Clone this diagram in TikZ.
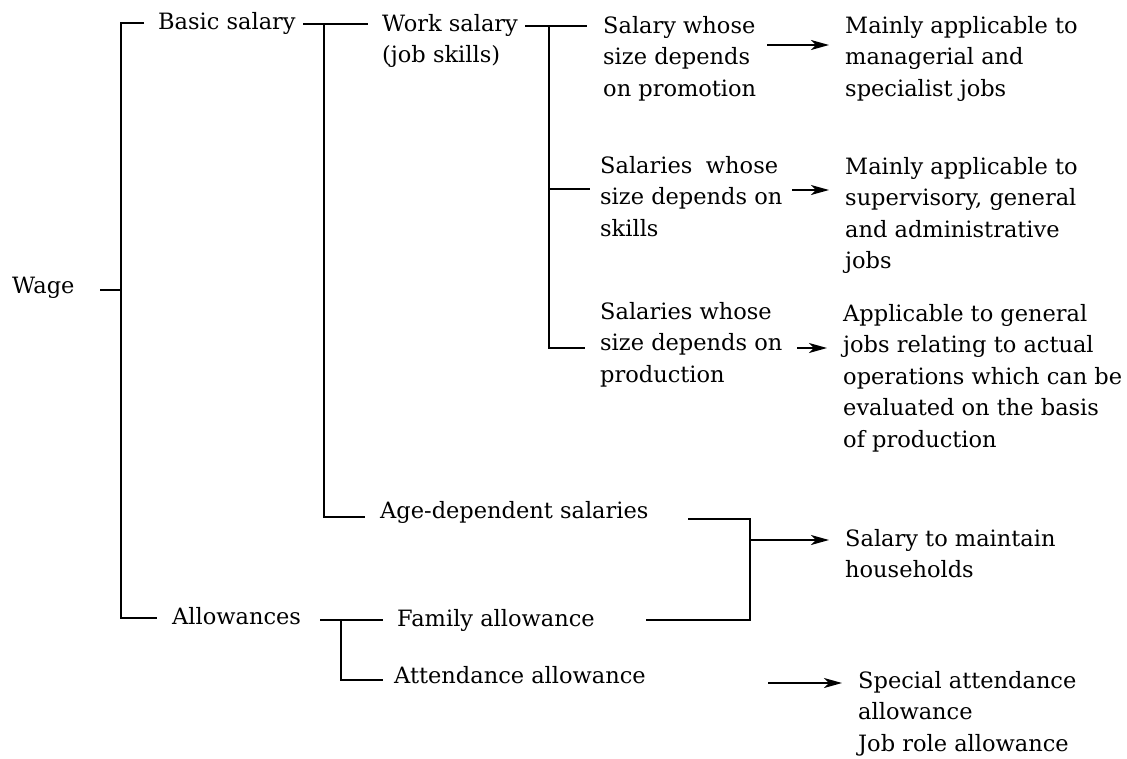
\documentclass[tikz,border=0pt]{standalone}
\usepackage{fontspec}
\setmainfont{DejaVu Serif}
\usetikzlibrary{arrows.meta}
\begin{document}
\begin{tikzpicture}[x=1pt,y=-1pt,
  txt/.style={anchor=north west, inner sep=0pt, align=left, font=\fontsize{22.5}{31.5}\selectfont},
  ln/.style={line width=1.7pt, line join=miter},
  arr/.style={line width=1.5pt, -{Stealth[length=18pt,width=10pt,inset=5pt]}, shorten >=16pt}]
\useasboundingbox (0,0) rectangle (1127,758);

% text nodes
\node[txt] (wage)   at (12,271)  {\strut Wage};
\node[txt] (basic)  at (158,7)   {\strut Basic salary};
\node[txt] (allow)  at (172,602) {\strut Allowances};
\node[txt] (work)   at (382,9)   {\strut Work salary\\(job skills)};
\node[txt] (age)    at (380,496) {\strut Age-dependent salaries};
\node[txt] (family) at (397,604) {\strut Family allowance};
\node[txt] (attend) at (394,661) {\strut Attendance allowance};
\node[txt] (s1) at (603,11)  {\strut Salary whose\\size depends\\on promotion};
\node[txt] (s2) at (600,151) {\strut Salaries\hspace{0.6em}whose\\size depends on\\skills};
\node[txt] (s3) at (600,297) {\strut Salaries whose\\size depends on\\production};
\node[txt] (m1) at (845,11)  {\strut Mainly applicable to\\managerial and\\specialist jobs};
\node[txt] (m2) at (845,152) {\strut Mainly applicable to\\supervisory, general\\and administrative\\jobs};
\node[txt] (m3) at (843,299) {\strut Applicable to general\\jobs relating to actual\\operations which can be\\evaluated on the basis\\of production};
\node[txt] (hh) at (845,524) {\strut Salary to maintain\\households};
\node[txt] (sp) at (858,666) {\strut Special attendance\\allowance\\Job role allowance};

% joints
\coordinate (w0) at (100,290);
\coordinate (wv) at (121,290);
\coordinate (wt) at (121,23);
\coordinate (wb) at (121,618);
\coordinate (bt) at (144,23);
\coordinate (ab) at (157,618);

\coordinate (b0) at (303,24);
\coordinate (b1) at (368,24);
\coordinate (bv) at (324,24);
\coordinate (bb) at (324,517);
\coordinate (ae) at (365,517);

\coordinate (k0) at (525,26);
\coordinate (k1) at (587,26);
\coordinate (kv) at (549,26);
\coordinate (km) at (549,189);
\coordinate (kme) at (590,189);
\coordinate (kb) at (549,348);
\coordinate (kbe) at (585,348);

\coordinate (a1) at (767,45);
\coordinate (a2) at (792,190);
\coordinate (a3) at (797,348);

\coordinate (g0) at (688,519);
\coordinate (gv) at (750,519);
\coordinate (gm) at (750,540);
\coordinate (gb) at (750,620);
\coordinate (f0) at (646,620);

\coordinate (l0) at (320,620);
\coordinate (l1) at (383,620);
\coordinate (lv) at (341,620);
\coordinate (lb) at (341,680);
\coordinate (le) at (383,680);

\coordinate (a5) at (768,683);

% connectors
\draw[ln] (w0) -- (wv);
\draw[ln] (bt) -- (wt) -- (wb) -- (ab);
\draw[ln] (b0) -- (b1);
\draw[ln] (bv) -- (bb) -- (ae);
\draw[ln] (k0) -- (k1);
\draw[ln] (kv) -- (kb) -- (kbe);
\draw[ln] (km) -- (kme);
\draw[ln] (g0) -- (gv) -- (gb) -- (f0);
\draw[ln] (l0) -- (l1);
\draw[ln] (lv) -- (lb) -- (le);

\draw[arr] (a1) -- (m1.west |- a1);
\draw[arr] (a2) -- (m2.west |- a2);
\draw[arr] (a3) -- (m3.west |- a3);
\draw[arr] (gm) -- (hh.west |- gm);
\draw[arr] (a5) -- (sp.west |- a5);
\end{tikzpicture}
\end{document}
